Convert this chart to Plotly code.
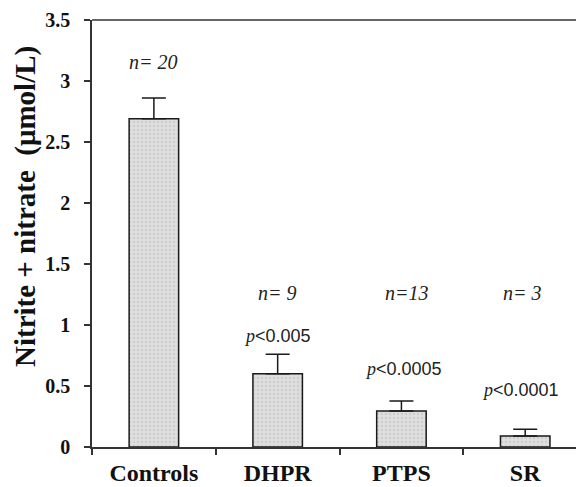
import plotly.graph_objects as go

categories = ["Controls", "DHPR", "PTPS", "SR"]
means = [2.69, 0.60, 0.295, 0.09]
sem = [0.17, 0.16, 0.082, 0.055]
n_labels = ["n= 20", "n= 9", "n=13", "n= 3"]
p_labels = [None, "p<0.005", "p<0.0005", "p<0.0001"]
y_ticks = [0, 0.5, 1, 1.5, 2, 2.5, 3, 3.5]
y_tick_text = ["0", "0.5", "1", "1.5", "2", "2.5", "3", "3.5"]
y_title = "Nitrite + nitrate  (μmol/L)"

serif = "Liberation Serif"
sans = "Liberation Sans"

fig = go.Figure()
fig.add_trace(go.Bar(
    x=categories, y=means, width=0.40,
    marker=dict(color="#dcdcdc", line=dict(color="#1a1a1a", width=1.5),
                pattern=dict(shape=".", fgcolor="#b8b8b8", bgcolor="#dedede",
                             size=4, solidity=0.25)),
    error_y=dict(type="data", symmetric=False, array=sem, arrayminus=[0]*len(sem),
                 color="#1a1a1a", thickness=1.5, width=12),
))

n_y = [3.156, 1.262, 1.262, 1.262]
n_shift = [0, 0, 6, -3]
for i, (c, t) in enumerate(zip(categories, n_labels)):
    fig.add_annotation(x=c, y=n_y[i], xshift=n_shift[i], text="<i>" + t + "</i>", showarrow=False,
                       font=dict(family=serif, size=20, color="#222"), yanchor="middle")
p_y = [None, 0.91, 0.64, 0.467]
p_shift = [0, 0, 2, -5]
for i, (c, t) in enumerate(zip(categories, p_labels)):
    if t is None:
        continue
    txt = "<span style='font-family:Liberation Serif'><i>p</i></span>" + t[1:].replace("<", "&lt;")
    fig.add_annotation(x=c, y=p_y[i], xshift=p_shift[i], text=txt, showarrow=False,
                       font=dict(family=sans, size=18, color="#222"),
                       yanchor="middle")

# y-axis title as a rotated annotation (it sits above the plot centre in the reference)
fig.add_annotation(x=0, y=0.562, xref="paper", yref="paper", xshift=-67, text=y_title,
                   textangle=-90, showarrow=False, xanchor="center", yanchor="middle",
                   font=dict(family=serif, size=29, color="#111", weight="bold"))

fig.add_shape(type="line", xref="paper", yref="paper", x0=0, x1=1, y0=1, y1=1,
              line=dict(color="#333", width=1.5))

# page body has an 8px margin, so the figure is sized and offset accordingly
fig.update_layout(
    width=576, height=479,
    margin=dict(l=84, r=0, t=12, b=40, autoexpand=False),
    plot_bgcolor="white", paper_bgcolor="white",
    showlegend=False,
    xaxis=dict(range=[-0.5, 3.475], showline=True, linecolor="#333", linewidth=1.5,
               ticks="outside", tickson="boundaries", ticklen=6, tickcolor="#333", tickwidth=1.5,
               tickfont=dict(family=serif, size=24, color="#111", weight="bold"),
               ticklabelstandoff=3, showgrid=False, automargin=False),
    yaxis=dict(range=[0, 3.5], tickvals=y_ticks, ticktext=y_tick_text,
               showline=True, linecolor="#333", linewidth=1.5,
               ticks="outside", ticklen=6, tickcolor="#333", tickwidth=1.5,
               tickfont=dict(family=serif, size=20, color="#111", weight="bold"),
               ticklabelstandoff=10, showgrid=False, zeroline=False, automargin=False),
)

fig.write_html("out.html")
